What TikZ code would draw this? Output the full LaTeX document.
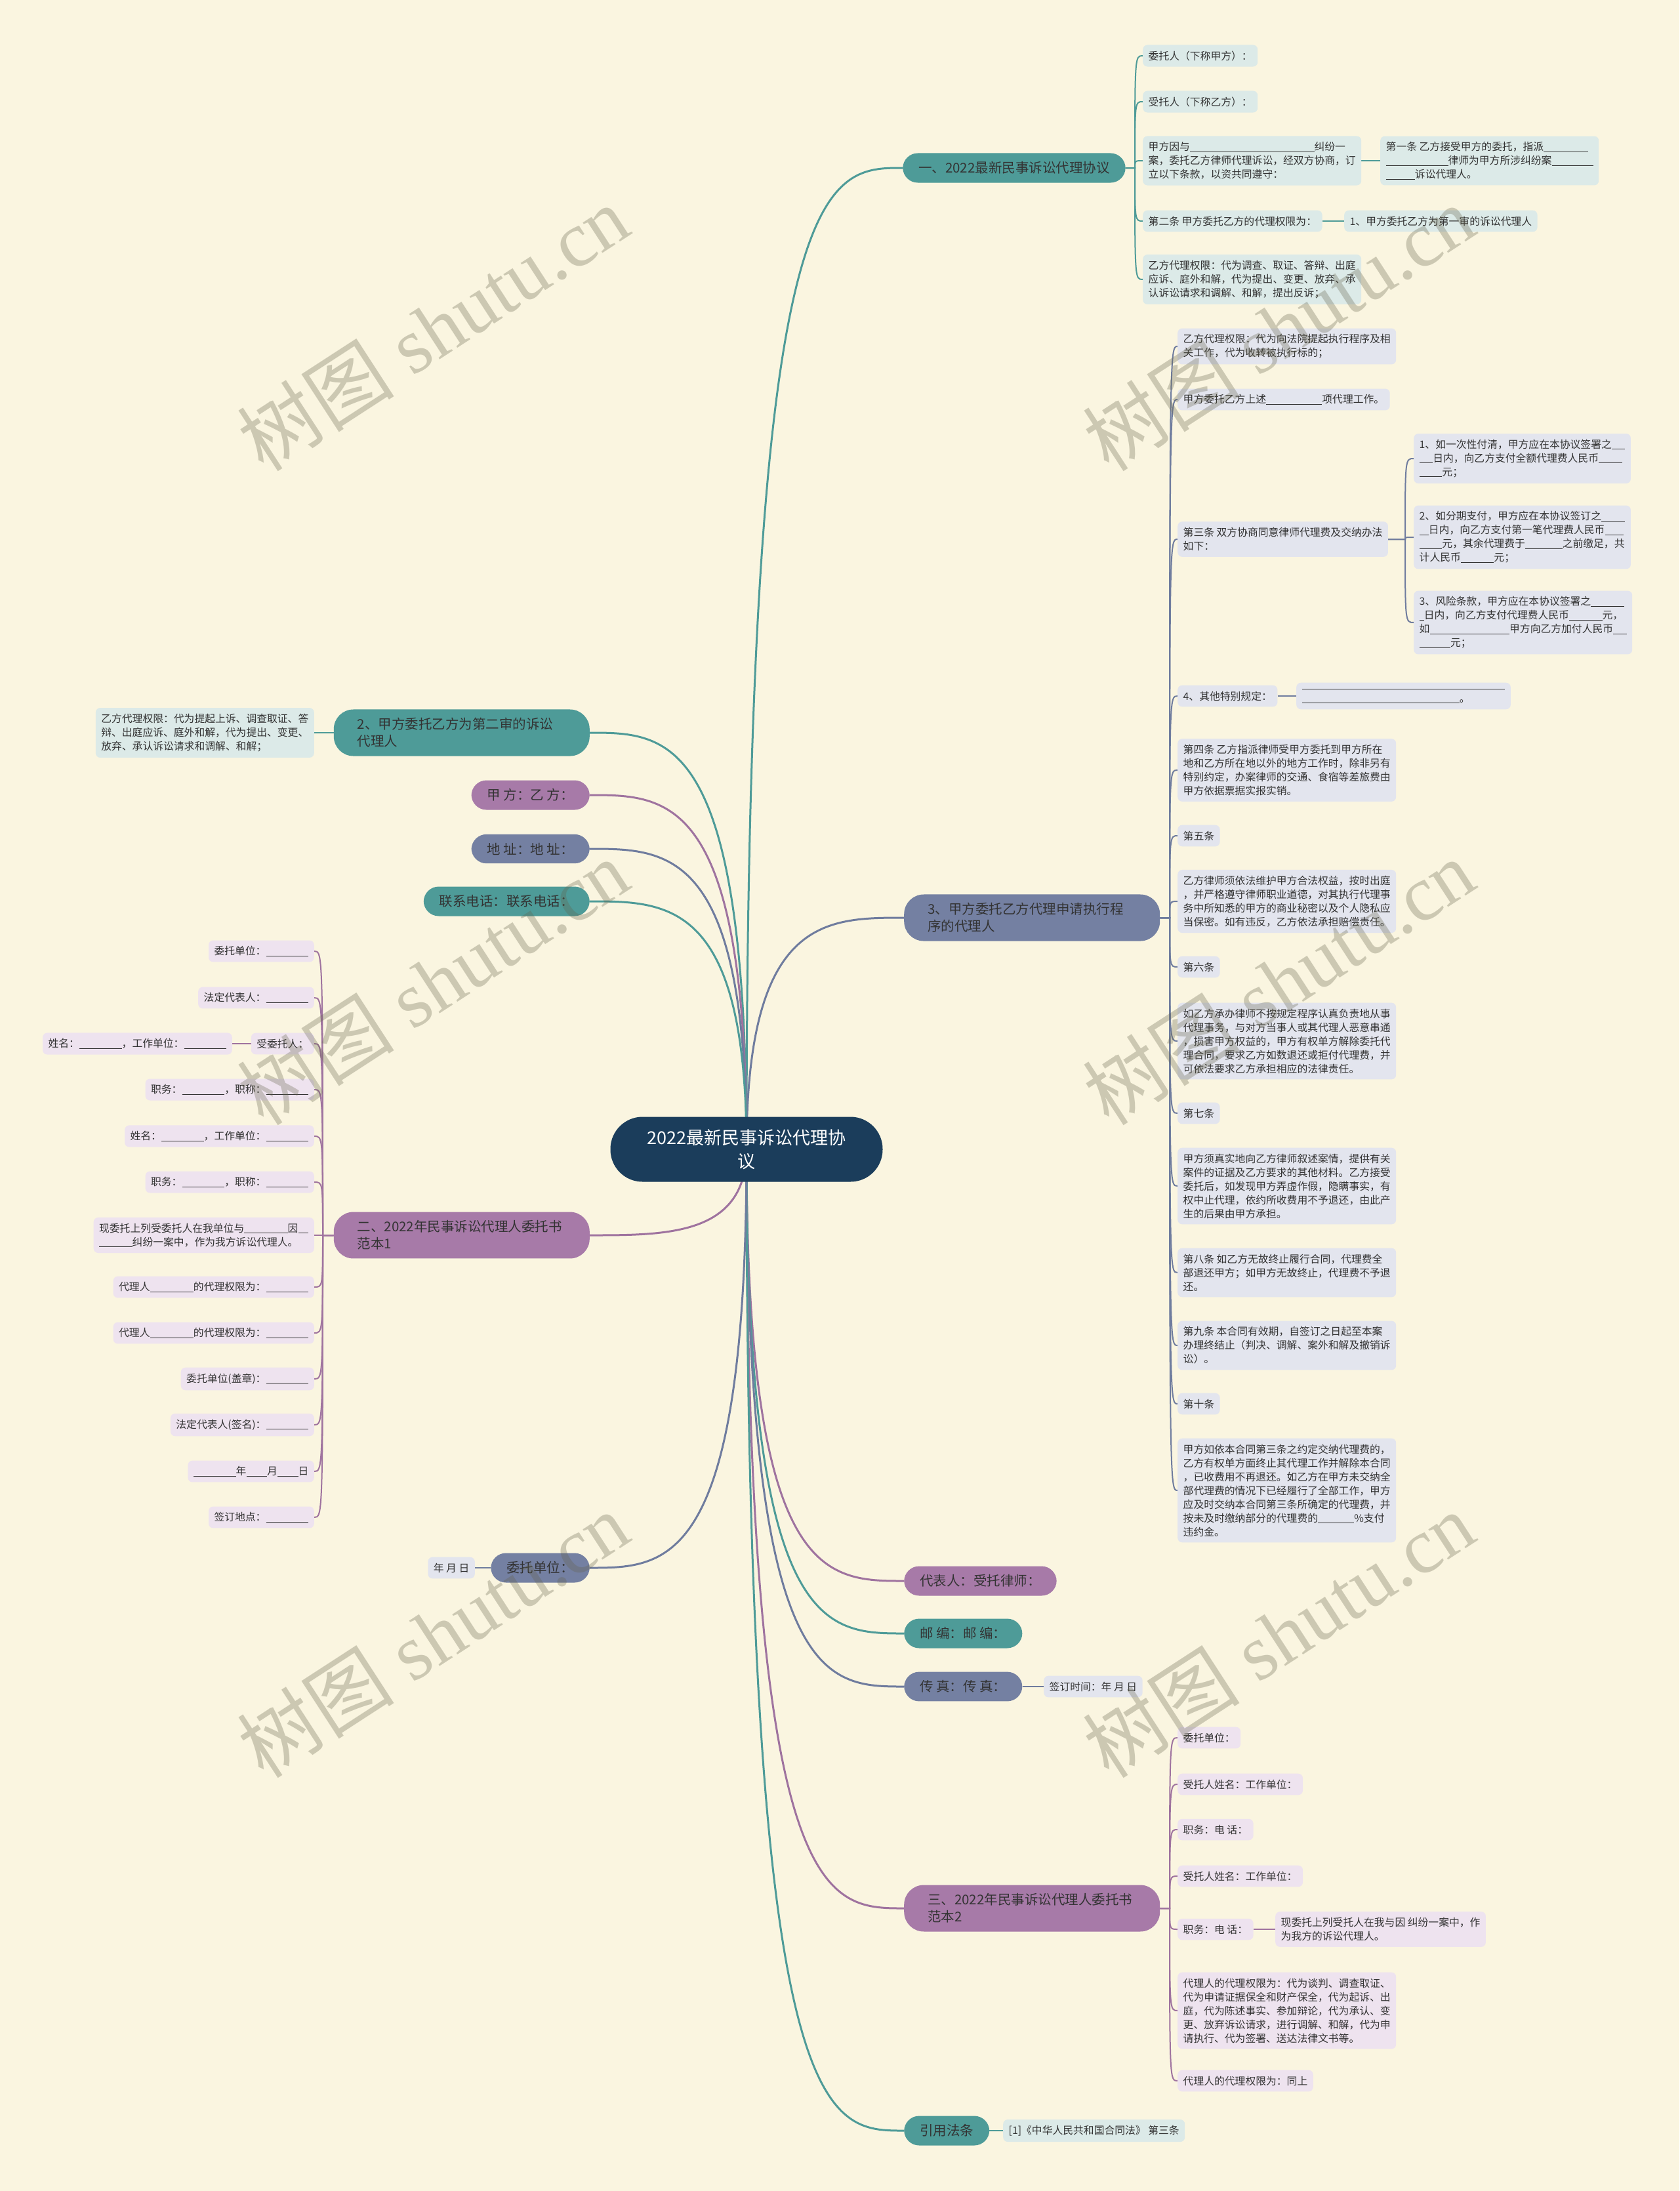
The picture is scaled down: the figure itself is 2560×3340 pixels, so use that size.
\documentclass[tikz,border=0pt]{standalone}
\usepackage{fontspec}
\setmainfont{Noto Sans CJK SC}
\newfontfamily\wmfont{Liberation Serif}
\newfontfamily\wmcjk{Noto Sans CJK SC}
\usetikzlibrary{calc}
\definecolor{bgc}{HTML}{FAF5E0}
\definecolor{navy}{HTML}{1B3D5B}
\definecolor{cTeal}{HTML}{4E9B98}
\definecolor{cSlate}{HTML}{7480A2}
\definecolor{cPurp}{HTML}{A77AA8}
\definecolor{lTeal}{HTML}{DCEAE8}
\definecolor{lSlate}{HTML}{E3E5EE}
\definecolor{lPurp}{HTML}{EEE3EF}
\definecolor{txt}{HTML}{333333}
\definecolor{lineT}{HTML}{4E9B98}
\definecolor{lineS}{HTML}{6F7C9E}
\definecolor{lineP}{HTML}{9F739F}
\definecolor{wmc}{HTML}{64624A}
\newcommand\bl[1]{\rule[-0.1em]{#1em}{0.055em}}
\newcommand\lfont{\fontsize{15.8pt}{21pt}\selectfont}
\newcommand\brfont{\fontsize{20.5pt}{26pt}\selectfont}
\newcommand\conR[4]{\draw[#4] let \p1=(#1.east), \p2=(#2.west) in (\p1) -- (#3pt,\y1) .. controls (#3pt,\y2) and (#3pt,\y2) .. (\p2);}
\newcommand\conL[4]{\draw[#4] let \p1=(#1.west), \p2=(#2.east) in (\p1) -- (#3pt,\y1) .. controls (#3pt,\y2) and (#3pt,\y2) .. (\p2);}
\newcommand\ctrR[2]{\draw[#2] let \p1=(ctr.center), \p2=(#1.west) in (\p1) .. controls (\x1,\y2) and ({0.5*\x1+0.5*\x2},\y2) .. (\p2);}
\newcommand\ctrL[2]{\draw[#2] let \p1=(ctr.center), \p2=(#1.east) in (\p1) .. controls (\x1,\y2) and ({0.5*\x1+0.5*\x2},\y2) .. (\p2);}
\pgfdeclarelayer{back}
\pgfdeclarelayer{lines}
\pgfdeclarelayer{front}
\pgfsetlayers{back,lines,main,front}
\tikzset{
  every node/.style={text=txt},
  leaf/.style={fill=#1, rounded corners=7pt, inner xsep=8.5pt, inner ysep=9pt, align=left, font=\lfont},
  leafT/.style={leaf=lTeal},
  leafS/.style={leaf=lSlate},
  leafP/.style={leaf=lPurp},
  pill/.style={fill=#1, rounded corners=23pt, inner xsep=24pt, inner ysep=13pt, align=left, font=\brfont},
  pilltwo/.style={fill=#1, rounded corners=30pt, inner xsep=36pt, inner ysep=13pt, text width=318pt, align=left, font=\brfont},
  lnT/.style={draw=lineT, line width=2pt},
  lnS/.style={draw=lineS, line width=2pt},
  lnP/.style={draw=lineP, line width=2pt},
  mT/.style={draw=lineT, line width=3pt},
  mS/.style={draw=lineS, line width=3pt},
  mP/.style={draw=lineP, line width=3pt},
  wm/.style={text=wmc, text opacity=0.3, rotate=33, font=\wmfont\fontsize{120pt}{130pt}\selectfont}
}
\begin{document}
\begin{tikzpicture}[x=1pt,y=-1pt]
\useasboundingbox (0,0) rectangle (2560,3340);
\begin{pgfonlayer}{back}
\fill[bgc] (0,0) rectangle (2560,3340);
\end{pgfonlayer}

% center
\node[fill=navy, rounded corners=49pt, minimum width=415pt, minimum height=99pt, align=center, text=white, font=\fontsize{27pt}{36pt}\selectfont] (ctr) at (1138,1752) {2022最新民事诉讼代理协\\议};

% branch 1
\node[pill=cTeal, anchor=west] (b1) at (1376,256) {一、2022最新民事诉讼代理协议};
\node[leafT, anchor=west] (c11) at (1742,85) {委托人（下称甲方）：};
\node[leafT, anchor=west] (c12) at (1742,155) {受托人（下称乙方）：};
\node[leafT, anchor=west] (c13) at (1742,245) {甲方因与\bl{12}纠纷一\\案，委托乙方律师代理诉讼，经双方协商，订\\立以下条款，以资共同遵守：};
\node[leafT, anchor=west] (c13a) at (2104,245) {第一条 乙方接受甲方的委托，指派\bl{4.3}\\\bl{6}律师为甲方所涉纠纷案\bl{4}\\\bl{2.8}诉讼代理人。};
\node[leafT, anchor=west] (c14) at (1742,337) {第二条 甲方委托乙方的代理权限为：};
\node[leafT, anchor=west] (c14a) at (2049,337) {1、甲方委托乙方为第一审的诉讼代理人};
\node[leafT, anchor=west] (c15) at (1742,426) {乙方代理权限：代为调查、取证、答辩、出庭\\应诉、庭外和解，代为提出、变更、放弃、承\\认诉讼请求和调解、和解，提出反诉；};

% branch 3
\node[pilltwo=cSlate, anchor=west] (b3) at (1378,1399) {3、甲方委托乙方代理申请执行程\\序的代理人};
\node[leafS, anchor=west] (c31) at (1795,528) {乙方代理权限：代为向法院提起执行程序及相\\关工作，代为收转被执行标的；};
\node[leafS, anchor=west] (c32) at (1795,609) {甲方委托乙方上述\bl{5.4}项代理工作。};
\node[leafS, anchor=west] (c33) at (1795,822) {第三条 双方协商同意律师代理费及交纳办法\\如下：};
\node[leafS, anchor=west] (c33a) at (2155,699) {1、如一次性付清，甲方应在本协议签署之\bl{1.3}\\\bl{1.3}日内，向乙方支付全额代理费人民币\bl{2.3}\\\bl{2.2}元；};
\node[leafS, anchor=west] (c33b) at (2155,819) {2、如分期支付，甲方应在本协议签订之\bl{2.3}\\\bl{0.9}日内，向乙方支付第一笔代理费人民币\bl{1.8}\\\bl{2.2}元，其余代理费于\bl{3.6}之前缴足，共\\计人民币\bl{3.2}元；};
\node[leafS, anchor=west] (c33c) at (2155,949) {3、风险条款，甲方应在本协议签署之\bl{3.2}\\\bl{0.45}日内，向乙方支付代理费人民币\bl{3.2}元，\\如\bl{7.7}甲方向乙方加付人民币\bl{1.3}\\\bl{3}元；};
\node[leafS, anchor=west] (c34) at (1795,1061) {4、其他特别规定：};
\node[leafS, anchor=west] (c34a) at (1976,1061) {\bl{19.6}\\\bl{15.2}。};
\node[leafS, anchor=west] (c35) at (1795,1174) {第四条 乙方指派律师受甲方委托到甲方所在\\地和乙方所在地以外的地方工作时，除非另有\\特别约定，办案律师的交通、食宿等差旅费由\\甲方依据票据实报实销。};
\node[leafS, anchor=west] (c36) at (1795,1274) {第五条};
\node[leafS, anchor=west] (c37) at (1795,1374) {乙方律师须依法维护甲方合法权益，按时出庭\\，并严格遵守律师职业道德，对其执行代理事\\务中所知悉的甲方的商业秘密以及个人隐私应\\当保密。如有违反，乙方依法承担赔偿责任。};
\node[leafS, anchor=west] (c38) at (1795,1474) {第六条};
\node[leafS, anchor=west] (c39) at (1795,1587) {如乙方承办律师不按规定程序认真负责地从事\\代理事务，与对方当事人或其代理人恶意串通\\，损害甲方权益的，甲方有权单方解除委托代\\理合同，要求乙方如数退还或拒付代理费，并\\可依法要求乙方承担相应的法律责任。};
\node[leafS, anchor=west] (c310) at (1795,1697) {第七条};
\node[leafS, anchor=west] (c311) at (1795,1808) {甲方须真实地向乙方律师叙述案情，提供有关\\案件的证据及乙方要求的其他材料。乙方接受\\委托后，如发现甲方弄虚作假，隐瞒事实，有\\权中止代理，依约所收费用不予退还，由此产\\生的后果由甲方承担。};
\node[leafS, anchor=west] (c312) at (1795,1940) {第八条 如乙方无故终止履行合同，代理费全\\部退还甲方；如甲方无故终止，代理费不予退\\还。};
\node[leafS, anchor=west] (c313) at (1795,2051) {第九条 本合同有效期，自签订之日起至本案\\办理终结止（判决、调解、案外和解及撤销诉\\讼）。};
\node[leafS, anchor=west] (c314) at (1795,2140) {第十条};
\node[leafS, anchor=west] (c315) at (1795,2272) {甲方如依本合同第三条之约定交纳代理费的，\\乙方有权单方面终止其代理工作并解除本合同\\，已收费用不再退还。如乙方在甲方未交纳全\\部代理费的情况下已经履行了全部工作，甲方\\应及时交纳本合同第三条所确定的代理费，并\\按未及时缴纳部分的代理费的\bl{3.5}\%支付\\违约金。};

% left branches
\node[pilltwo=cTeal, anchor=east] (b2) at (899,1117) {2、甲方委托乙方为第二审的诉讼\\代理人};
\node[leafT, anchor=east] (c21) at (479,1117) {乙方代理权限：代为提起上诉、调查取证、答\\辩、出庭应诉、庭外和解，代为提出、变更、\\放弃、承认诉讼请求和调解、和解；};
\node[pill=cPurp, anchor=east] (b4) at (899,1212) {甲 方：乙 方：};
\node[pill=cSlate, anchor=east] (b5) at (899,1294) {地 址：地 址：};
\node[pill=cTeal, anchor=east] (b6) at (899,1374) {联系电话：联系电话：};
\node[pilltwo=cPurp, anchor=east] (b7) at (899,1883) {二、2022年民事诉讼代理人委托书\\范本1};
\node[leafP, anchor=east] (l1) at (479,1450) {委托单位：\bl{4.1}};
\node[leafP, anchor=east] (l2) at (479,1521) {法定代表人：\bl{4.1}};
\node[leafP, anchor=east] (l3) at (479,1591) {受委托人：};
\node[leafP, anchor=east] (l3a) at (354,1591) {姓名：\bl{4.1}，工作单位：\bl{4.1}};
\node[leafP, anchor=east] (l4) at (479,1661) {职务：\bl{4.1}，职称：\bl{4.1}};
\node[leafP, anchor=east] (l5) at (479,1732) {姓名：\bl{4.1}，工作单位：\bl{4.1}};
\node[leafP, anchor=east] (l6) at (479,1802) {职务：\bl{4.1}，职称：\bl{4.1}};
\node[leafP, anchor=east] (l7) at (479,1883) {现委托上列受委托人在我单位与\bl{4.2}因\bl{1}\\\bl{3.2}纠纷一案中，作为我方诉讼代理人。};
\node[leafP, anchor=east] (l8) at (479,1962) {代理人\bl{4.2}的代理权限为：\bl{4.1}};
\node[leafP, anchor=east] (l9) at (479,2032) {代理人\bl{4.2}的代理权限为：\bl{4.1}};
\node[leafP, anchor=east] (l10) at (479,2102) {委托单位(盖章)：\bl{4.1}};
\node[leafP, anchor=east] (l11) at (479,2172) {法定代表人(签名)：\bl{4.1}};
\node[leafP, anchor=east] (l12) at (479,2243) {\bl{4.1}年\bl{2}月\bl{2}日};
\node[leafP, anchor=east] (l13) at (479,2313) {签订地点：\bl{4.1}};
\node[pill=cSlate, anchor=east] (b8) at (899,2390) {委托单位：};
\node[leafS, anchor=east] (b8a) at (724,2390) {年 月 日};

% bottom right branches
\node[pill=cPurp, anchor=west] (b9) at (1378,2410) {代表人：受托律师：};
\node[pill=cTeal, anchor=west] (b10) at (1378,2490) {邮 编：邮 编：};
\node[pill=cSlate, anchor=west] (b11) at (1378,2571) {传 真：传 真：};
\node[leafS, anchor=west] (b11a) at (1591,2571) {签订时间：年 月 日};
\node[pilltwo=cPurp, anchor=west] (b12) at (1378,2909) {三、2022年民事诉讼代理人委托书\\范本2};
\node[leafP, anchor=west] (m1) at (1795,2649) {委托单位：};
\node[leafP, anchor=west] (m2) at (1795,2720) {受托人姓名：工作单位：};
\node[leafP, anchor=west] (m3) at (1795,2789) {职务：电 话：};
\node[leafP, anchor=west] (m4) at (1795,2860) {受托人姓名：工作单位：};
\node[leafP, anchor=west] (m5) at (1795,2941) {职务：电 话：};
\node[leafP, anchor=west] (m5a) at (1944,2941) {现委托上列受托人在我与因 纠纷一案中，作\\为我方的诉讼代理人。};
\node[leafP, anchor=west] (m6) at (1795,3065) {代理人的代理权限为：代为谈判、调查取证、\\代为申请证据保全和财产保全，代为起诉、出\\庭，代为陈述事实、参加辩论，代为承认、变\\更、放弃诉讼请求，进行调解、和解，代为申\\请执行、代为签署、送达法律文书等。};
\node[leafP, anchor=west] (m7) at (1795,3172) {代理人的代理权限为：同上};
\node[pill=cTeal, anchor=west] (b13) at (1378,3248) {引用法条};
\node[leafT, anchor=west] (b13a) at (1529,3248) {{}[1]《中华人民共和国合同法》 第三条};

\begin{pgfonlayer}{lines}
% center connectors
\ctrR{b1}{mT}
\ctrR{b3}{mS}
\ctrR{b9}{mP}
\ctrR{b10}{mT}
\ctrR{b11}{mS}
\ctrR{b12}{mP}
\ctrR{b13}{mT}
\ctrL{b2}{mT}
\ctrL{b4}{mP}
\ctrL{b5}{mS}
\ctrL{b6}{mT}
\ctrL{b7}{mP}
\ctrL{b8}{mS}
% branch 1
\foreach \c in {c11,c12,c13,c14,c15} {\conR{b1}{\c}{1730}{lnT}}
\draw[lnT] (c13.east) -- (c13a.west);
\draw[lnT] (c14.east) -- (c14a.west);
% branch 3
\foreach \c in {c31,c32,c33,c34,c35,c36,c37,c38,c39,c310,c311,c312,c313,c314,c315} {\conR{b3}{\c}{1783}{lnS}}
\foreach \c in {c33a,c33b,c33c} {\conR{c33}{\c}{2142}{lnS}}
\draw[lnS] (c34.east) -- (c34a.west);
% left
\draw[lnT] (b2.west) -- (c21.east);
\foreach \c in {l1,l2,l3,l4,l5,l6,l7,l8,l9,l10,l11,l12,l13} {\conL{b7}{\c}{492}{lnP}}
\draw[lnP] (l3.west) -- (l3a.east);
\draw[lnS] (b8.west) -- (b8a.east);
% bottom right
\draw[lnS] (b11.east) -- (b11a.west);
\foreach \c in {m1,m2,m3,m4,m5,m6,m7} {\conR{b12}{\c}{1783}{lnP}}
\draw[lnP] (m5.east) -- (m5a.west);
\draw[lnT] (b13.east) -- (b13a.west);
\end{pgfonlayer}

\begin{pgfonlayer}{front}
\foreach \p in {(660,500),(1949,500),(660,1497),(1949,1497),(660,2492),(1949,2492)} {
  \node[wm] at \p {{\wmcjk 树图} shutu.cn};
}
\end{pgfonlayer}
\end{tikzpicture}
\end{document}
